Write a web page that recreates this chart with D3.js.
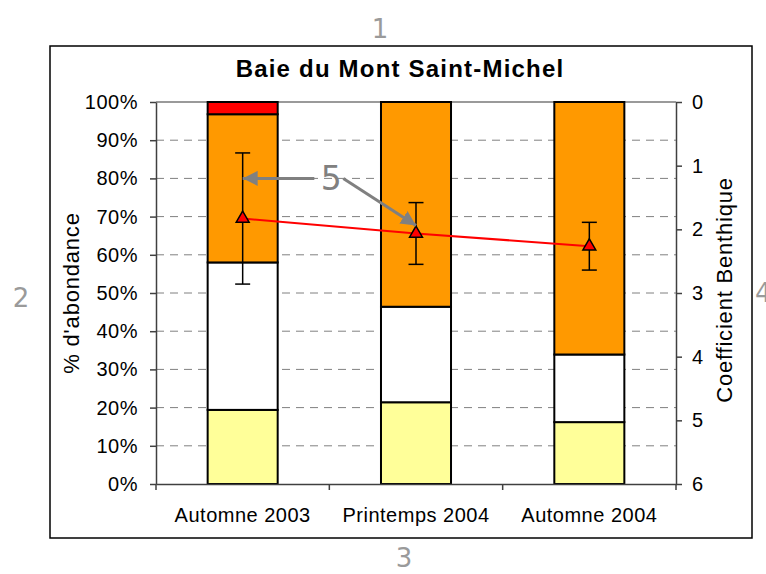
<!DOCTYPE html>
<html>
<head>
<meta charset="utf-8">
<script src="https://cdn.jsdelivr.net/npm/d3@7"></script>
<style>
body { margin: 0; background: #fff; }
svg text { font-family: "Liberation Sans", Arial, sans-serif; }
.axis path, .axis line { stroke: #404040; stroke-width: 1.5; }
.axis text { font-size: 20px; letter-spacing: 0.5px; fill: #000; }
</style>
</head>
<body>
<svg width="766" height="574"></svg>
<script>
// data
var categories = ["Automne 2003", "Printemps 2004", "Automne 2004"];
var pctYellow = [19.4, 21.4, 16.2];
var pctWhite = [38.6, 25.0, 17.7];
var pctOrange = [38.8, 53.6, 66.1];
var pctRed = [3.2, 0, 0];
var coefMean = [1.83, 2.065, 2.265];
var coefErr = [1.03, 0.485, 0.375];
var pctTicks = [0, 10, 20, 30, 40, 50, 60, 70, 80, 90, 100];
var coefTicks = [0, 1, 2, 3, 4, 5, 6];

var svg = d3.select("svg");
var margin = {"top":102,"right":90,"bottom":90,"left":156};
var width = 766 - margin.left - margin.right;
var height = 574 - margin.top - margin.bottom;

// outer frame
svg.append("rect").attr("x",50).attr("y",46).attr("width",702).attr("height",492)
    .attr("fill","none").attr("stroke","#000").attr("stroke-width",1.5);

var g = svg.append("g").attr("transform","translate("+margin.left+","+margin.top+")");

var x = d3.scaleBand().domain(categories).range([0,width]).padding(0);
var y = d3.scaleLinear().domain([0,100]).range([height,0]);
var y2 = d3.scaleLinear().domain([0,6]).range([0,height]);
var barW = x.bandwidth()*0.404;

// gridlines
g.selectAll(".grid").data(pctTicks.filter(function(d){return d>0 && d<100;}))
    .enter().append("line")
    .attr("x1",0).attr("x2",width)
    .attr("y1",function(d){return y(d);}).attr("y2",function(d){return y(d);})
    .attr("stroke","#808080").attr("stroke-width",1).attr("stroke-dasharray","8,6");
g.append("line").attr("x1",0).attr("x2",width).attr("y1",y(100)).attr("y2",y(100))
    .attr("stroke","#9a9a9a").attr("stroke-width",2);

// stacked bars
var layers = [
    {vals:pctYellow, color:"#FFFF99"},
    {vals:pctWhite, color:"#FFFFFF"},
    {vals:pctOrange, color:"#FF9900"},
    {vals:pctRed, color:"#FF0000"}
];
var base = [0,0,0];
layers.forEach(function(l){
    var rows = categories.map(function(c,i){
        var r = {cat:c, y0:base[i], y1:base[i]+l.vals[i]};
        base[i] = r.y1;
        return r;
    }).filter(function(r){return r.y1>r.y0;});
    g.selectAll(null).data(rows).enter().append("rect")
        .attr("x",function(d){return x(d.cat)+(x.bandwidth()-barW)/2;})
        .attr("y",function(d){return y(d.y1);})
        .attr("width",barW)
        .attr("height",function(d){return y(d.y0)-y(d.y1);})
        .attr("fill",l.color).attr("stroke","#000").attr("stroke-width",2);
});

// axes
g.append("g").attr("class","axis")
    .call(d3.axisLeft(y).tickValues(pctTicks).tickFormat(function(d){return d+"%";})
        .tickSize(6).tickSizeOuter(0).tickPadding(12));
g.append("g").attr("class","axis").attr("transform","translate("+width+",0)")
    .call(d3.axisRight(y2).tickValues(coefTicks).tickFormat(d3.format("d"))
        .tickSize(6).tickSizeOuter(0).tickPadding(10));
var xa = g.append("g").attr("class","axis").attr("transform","translate(0,"+height+")")
    .call(d3.axisBottom(x).tickSize(0).tickPadding(23.5));
xa.select(".domain").attr("stroke","#707070");
xa.selectAll(".bound").data(categories.map(function(c){return x(c);}).concat([width]))
    .enter().append("line").attr("class","bound")
    .attr("x1",function(d){return d;}).attr("x2",function(d){return d;})
    .attr("y1",0).attr("y2",6);

// coefficient line, error bars, markers
var cx = function(i){return x(categories[i])+x.bandwidth()/2;};
var line = d3.line().x(function(d,i){return cx(i);}).y(function(d){return y2(d);});
g.append("path").datum(coefMean).attr("d",line)
    .attr("fill","none").attr("stroke","#FF0000").attr("stroke-width",2);
coefMean.forEach(function(m,i){
    var lo = y2(m-coefErr[i]), hi = y2(m+coefErr[i]);
    g.append("line").attr("x1",cx(i)).attr("x2",cx(i)).attr("y1",lo).attr("y2",hi)
        .attr("stroke","#000").attr("stroke-width",1.5);
    [lo,hi].forEach(function(v){
        g.append("line").attr("x1",cx(i)-7.5).attr("x2",cx(i)+7.5).attr("y1",v).attr("y2",v)
            .attr("stroke","#000").attr("stroke-width",1.5);
    });
});
g.selectAll(".mk").data(coefMean).enter().append("path")
    .attr("d",d3.symbol().type(d3.symbolTriangle).size(72))
    .attr("transform",function(d,i){return "translate("+cx(i)+","+y2(d)+")";})
    .attr("fill","#FF0000").attr("stroke","#000").attr("stroke-width",1.5);

// title and axis titles
svg.append("text").attr("x",400).attr("y",77).attr("text-anchor","middle")
    .style("font-size","24px").style("font-weight","bold").style("letter-spacing","1.2px")
    .text("Baie du Mont Saint-Michel");
svg.append("text").attr("transform","translate(71,293) rotate(-90)").attr("dy","0.35em")
    .attr("text-anchor","middle").style("font-size","22px").style("letter-spacing","0.8px")
    .text("% d'abondance");
svg.append("text").attr("transform","translate(724,290) rotate(-90)").attr("dy","0.35em")
    .attr("text-anchor","middle").style("font-size","22px").style("letter-spacing","0.8px")
    .text("Coefficient Benthique");

// annotation "5" with arrows
var defs = svg.append("defs");
defs.append("marker").attr("id","ah").attr("viewBox","0 0 10 10")
    .attr("refX",10).attr("refY",5).attr("markerWidth",5).attr("markerHeight",5)
    .attr("markerUnits","strokeWidth").attr("orient","auto")
    .append("path").attr("d","M0,0L10,5L0,10Z").attr("fill","#808080");
var lblX = x(categories[1]), lblY = y(80);
g.append("line").attr("x1",lblX-15).attr("y1",lblY).attr("x2",cx(0)).attr("y2",lblY)
    .attr("stroke","#808080").attr("stroke-width",3).attr("marker-end","url(#ah)");
g.append("line").attr("x1",lblX+14).attr("y1",lblY).attr("x2",cx(1)).attr("y2",y2(coefMean[1])-8)
    .attr("stroke","#808080").attr("stroke-width",3).attr("marker-end","url(#ah)");
g.append("text").attr("x",lblX+2).attr("y",lblY+12).attr("text-anchor","middle")
    .style("font-family","'DejaVu Sans', sans-serif").style("font-size","33px").attr("fill","#808080")
    .text("5");

// corner numbers
var nums = [["1",380,38,"middle"],["2",21,307,"middle"],["3",404,567,"middle"],["4",755,302,"start"]];
nums.forEach(function(n){
    svg.append("text").attr("x",n[1]).attr("y",n[2]).attr("text-anchor",n[3])
        .style("font-family","'DejaVu Sans', sans-serif").style("font-size","26px")
        .attr("fill","#9a9a9a").text(n[0]);
});
</script>
</body>
</html>
